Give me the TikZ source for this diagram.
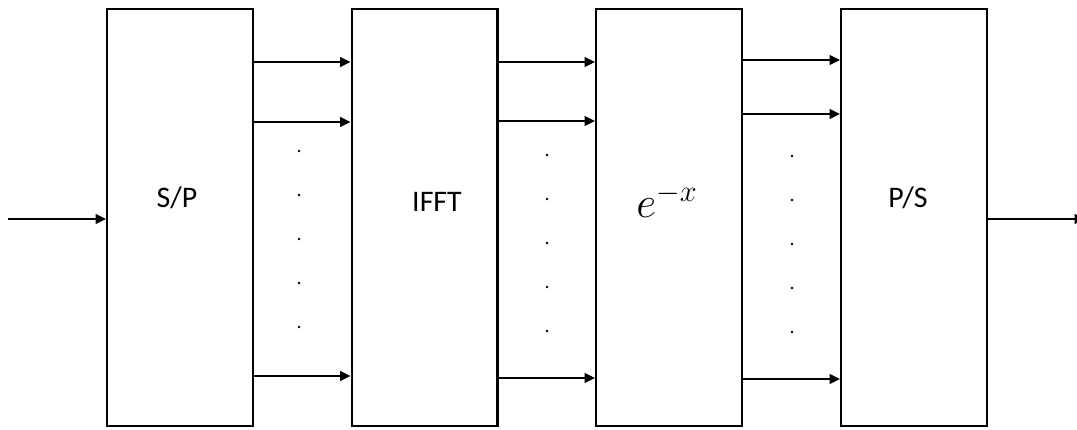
\documentclass[tikz,border=0pt]{standalone}
\usepackage{fontspec}
\setmainfont{Carlito}
\usepackage{tikz}
\usetikzlibrary{arrows.meta}

\tikzset{
  block/.style={draw, line width=1.15pt, inner sep=0pt,
                minimum width=2.92cm, minimum height=8.34cm},
  sig/.style={line width=0.7pt, -{Triangle[length=0.21cm, width=0.2cm]}},
  lbl/.style={font=\fontsize{17}{20}\selectfont, inner sep=0pt},
}

\begin{document}
\begin{tikzpicture}[x=0.02cm, y=-0.02cm]

  \useasboundingbox (0,0) rectangle (1077,429);

  % blocks
  \node[block] (sp)   at (180,217.5)   {};
  \node[block] (ifft) at (424.5,217.5) {};
  \node[block] (ex)   at (669,217.5)   {};
  \node[block] (ps)   at (914,217.5)   {};

  \node[lbl] (splbl)   at (177,198) {S/P};
  \node[lbl] (ifftlbl) at (437,202) {IFFT};
  \node[font=\fontsize{26}{30}\selectfont, inner sep=0pt] (exlbl) at (667,201) {$e^{-x}$};
  \node[lbl] (pslbl)   at (908,198) {P/S};

  % input and output
  \coordinate (in)  at (8,219);
  \coordinate (out) at (1085,219);
  \draw[sig] (in) -- (sp.west |- in);
  \draw[sig] (ps.east |- out) -- (out);

  % parallel lines
  \foreach \a/\b/\ya/\yb/\yc in {sp/ifft/62/122/376, ifft/ex/62/121/378, ex/ps/60/114/379}{
    \draw[sig] (\a.east |- 0,\ya) -- (\b.west |- 0,\ya);
    \draw[sig] (\a.east |- 0,\yb) -- (\b.west |- 0,\yb);
    \draw[sig] (\a.east |- 0,\yc) -- (\b.west |- 0,\yc);
  }

  % dots
  \foreach \x/\y in {299/151, 547/155, 792/156}{
    \foreach \k in {0,...,4}
      \fill (\x,\y+44*\k) circle (1.4);
  }

\end{tikzpicture}
\end{document}
